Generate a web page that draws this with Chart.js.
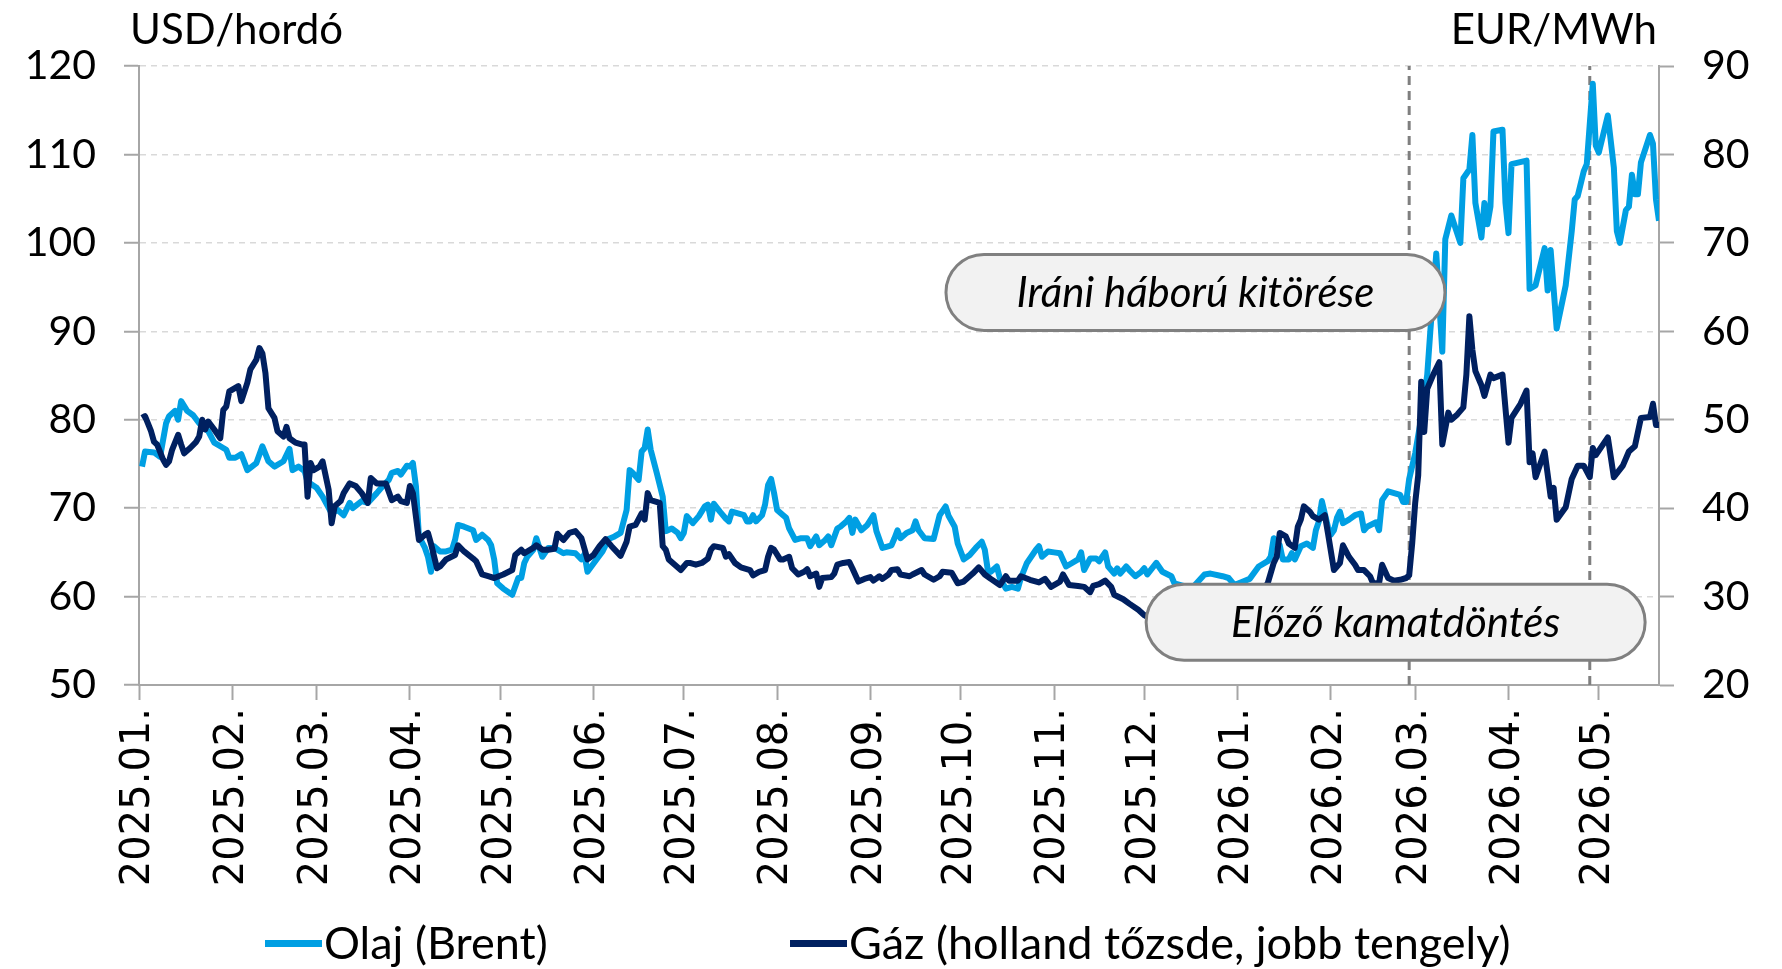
<!DOCTYPE html>
<html>
<head>
<meta charset="utf-8">
<title>Olaj és gáz árak</title>
<script src="https://cdn.jsdelivr.net/npm/chart.js@4.4.1/dist/chart.umd.min.js"></script>
<style>
  html, body { margin: 0; padding: 0; background: #fff; }
  #wrap { width: 1782px; height: 969px; }
</style>
</head>
<body>
<div id="wrap"><canvas id="chPrices" width="1782" height="969"></canvas></div>
<script>
// x values are days counted from 2025-01-01 (day 0)
const monthLabels = ['2025.01.', '2025.02.', '2025.03.', '2025.04.', '2025.05.', '2025.06.',
  '2025.07.', '2025.08.', '2025.09.', '2025.10.', '2025.11.', '2025.12.',
  '2026.01.', '2026.02.', '2026.03.', '2026.04.', '2026.05.'];
const lastDay = 505; // 2026-05-21

// Olaj (Brent), USD/hordó
const oilDays = [
  1,2,5,7,9,10,12,13,14,16,18,20,23,25,28,29,30,32,34,36,39,41,43,45,48,50,51,53,55,56,59,61,64,66,68,70,71,74,76,79,81,83,
  84,86,87,89,90,91,92,93,95,96,97,98,100,102,104,105,106,108,111,112,114,116,117,118,119,121,124,126,127,128,129,131,132,134,136,138,141,142,145,147,148,149,152,154,156,158,160,162,163,164,166,167,168,169,
  170,172,174,175,177,179,180,181,182,184,186,188,189,190,191,193,195,196,197,199,201,202,203,204,205,207,208,209,210,211,212,214,215,216,218,220,222,223,225,226,228,229,230,232,233,235,236,237,238,240,242,244,245,247,
  248,250,251,252,253,255,257,258,259,261,264,266,268,269,271,272,274,276,278,280,281,282,283,285,286,288,290,292,293,295,298,299,300,302,304,306,308,310,312,313,314,316,318,319,321,322,324,325,326,328,329,331,333,
  334,335,338,340,343,344,347,350,354,356,360,362,364,366,369,372,375,376,377,379,380,382,383,384,386,388,390,391,392,393,395,396,397,398,399,400,402,404,406,407,408,411,412,413,415,417,
  419,420,421,422,424,426,428,429,431,433,434,436,439,440,442,443,444,446,447,448,449,450,453,454,455,456,461,462,464,467,468,469,471,474,476,477,478,480,481,483,484,485,488,490,491,492,494,495,496,497,498,499,502,503,504,505
];
const oilValues = [
  74.7,76.4,76.3,75.8,79.6,80.4,81,80,82.1,81,80.5,79.6,78.7,77.4,76.8,76.6,75.7,75.7,76.1,74.3,75.1,77,75.3,74.7,75.3,76.7,74.3,74.7,74.2,73,72.3,71.3,69.4,69.8,69.2,70.6,70,70.8,70.6,71.7,72.5,73.2,
  74,74.2,73.8,74.8,74.7,75.1,72.5,66.8,65.5,64.5,62.8,65.7,65.1,65.1,65.3,66.4,68.1,67.9,67.5,66.4,67,66.4,65.8,64.2,61.5,60.9,60.2,62.1,62.1,63.8,64.5,65.3,66.6,64.5,65.5,65.5,64.9,65,64.9,64.2,64.8,62.8,64.2,65.1,66.5,66.8,67.2,69.8,74.3,74,73.2,76.4,76.8,78.9,
  76.6,74,71.3,67.4,67.7,67.2,66.6,67.2,69.1,68.3,69.1,70.2,70.4,68.7,70.5,69.6,68.8,68.5,69.6,69.4,69.2,68.5,68.5,69.2,68.5,69.2,70.4,72.6,73.3,71.7,69.8,69.2,68.9,67.7,66.4,66.6,66.6,65.7,66.8,65.8,66.4,66.8,65.8,67.7,67.9,68.5,68.9,67.2,68.7,67.5,68.1,69.2,67.4,65.5,
  65.6,65.8,66.6,67.5,66.6,67.2,67.5,68.5,67.5,66.6,66.5,69.2,70.2,69.1,67.9,66,64.2,64.7,65.5,66.2,65.3,63,62.8,63.4,62.1,60.9,61.1,60.9,62.1,63.8,65.3,65.7,64.5,65.1,65,64.9,63.4,63.8,64.2,65,63,64.3,64.3,64,65,63.4,62.6,63.2,62.6,63.4,63,62.3,62.8,
  63.2,62.5,63.8,62.8,62.3,61.5,61.2,61,62.5,62.6,62.3,62.1,61.3,61.6,62,63.4,64,64.5,66.6,65.8,64.2,64.2,64.9,64.2,65.7,66,65.5,67.5,68.5,70.8,67.9,67,67.5,68.9,69.6,68.3,68.7,69.2,69.4,67.5,67.9,68.4,67.5,70.9,71.9,71.7,
  71.5,70.7,70.7,73.3,76.2,80.2,85.1,89.9,98.8,87.7,100.4,103.1,100,107.3,108.3,112.2,104.5,100.6,104.5,102.1,104.1,112.6,112.8,104.5,101.1,108.9,109.3,94.8,95.2,99.4,94.6,99.2,90.3,95.2,101.3,104.9,105.3,108.1,108.9,118,111,110.2,114.4,108.5,101.3,100,103.7,104.1,107.7,105.5,105.5,109.1,112.2,111.2,104.9,102.5
];

// Gáz (holland tőzsde), EUR/MWh, jobb tengely
const gasDays = [
  1,2,4,5,6,8,9,10,11,13,14,15,17,19,20,21,22,23,25,27,28,29,30,32,33,34,36,37,39,40,41,42,43,45,46,48,49,50,52,54,55,56,57,58,60,61,63,64,65,67,68,70,72,74,76,77,79,82,
  84,86,87,89,90,91,93,95,96,97,99,100,102,105,106,108,111,112,114,116,118,121,124,125,127,128,131,132,134,136,138,139,141,143,145,147,149,151,153,155,157,160,162,163,165,
  167,168,169,170,173,174,175,176,178,180,182,183,185,187,189,190,191,194,195,196,198,200,203,204,206,208,209,210,211,213,214,216,217,219,221,222,223,225,226,227,230,231,232,234,236,237,239,241,243,244,246,247,
  249,250,252,253,256,257,260,261,264,266,267,270,272,274,277,279,281,283,286,288,289,292,293,296,299,301,303,306,307,309,312,314,316,317,319,321,323,324,327,329,332,334,
  335,338,342,346,350,355,360,365,370,373,375,377,378,379,381,382,384,385,386,387,389,390,392,394,395,397,399,400,402,404,405,407,409,410,412,413,415,417,419,421,422,423,424,425,426,427,428,430,432,433,
  435,436,438,440,441,442,443,444,446,447,449,450,453,455,456,459,461,462,463,464,467,469,470,471,474,476,478,480,482,483,484,488,490,493,495,497,499,502,503,504,505
];
const gasValues = [
  50.2,50.4,48.7,47.5,47.2,45.5,44.9,45.3,46.6,48.3,47.2,46.2,46.8,47.5,48.1,50,48.9,49.8,48.9,47.9,51.1,51.5,53.2,53.6,53.8,52.1,54.2,55.7,56.8,58.1,57.5,55.3,51.3,50.2,48.7,48.1,49.2,47.9,47.4,47.2,47.2,41.3,45.1,44.3,44.7,45.3,42.1,38.3,40.2,40.8,41.7,42.8,42.5,41.7,40.6,43.4,42.8,42.8,
  40.9,41.3,40.8,40.6,42.5,41.7,36.4,37,37.2,36,33.2,33.4,34.2,34.7,35.8,35.1,34.3,34,32.5,32.3,32.1,32.5,33,34.7,35.3,34.9,35.5,35.8,35.3,35.3,35.4,37.1,36.4,37.2,37.4,36.6,34.2,34.7,35.7,36.5,35.7,34.6,36.2,37.9,38.1,
  39.4,38.7,41.7,40.9,40.6,35.7,35.3,34.2,33.6,33,33.8,33.8,33.6,33.8,34.3,35.3,35.7,35.5,34.5,34.8,33.8,33.3,33,32.4,32.8,33,34.5,35.5,35.3,34.2,34.2,34.5,33.2,32.5,32.8,33.1,32.3,32.6,31.1,32.1,32.2,32.6,33.6,33.8,33.9,33.2,31.7,32,32.2,31.8,32.3,32,
  32.5,33,33.1,32.5,32.3,32.5,33,32.5,31.9,32.3,32.8,32.7,31.5,31.7,32.6,33.3,32.5,32,31.3,32.3,31.8,31.8,32.3,31.9,31.6,32,31.1,31.7,32.5,31.3,31.2,31.1,30.5,31.2,31.4,31.8,31.1,30.2,29.7,29.2,28.5,27.9,
  27.7,27.5,27.6,27.2,27.4,27.8,28.3,28.6,29.5,30.5,31.5,33.8,34.5,37.2,36.8,36,35.5,37.9,38.7,40.2,39.6,39.1,38.7,39.2,37.2,33,33.8,35.8,34.5,33.6,33,33,32.3,31.5,31.5,33.6,32.1,31.8,31.9,32.1,32.4,36,40.6,43.7,54.3,48.6,53.5,55.1,56.5,47.2,
  50.8,50,50.6,51.4,55.1,61.7,57.9,55.5,53.9,52.7,55.1,54.7,55.1,47.4,50.2,51.8,53.3,45.2,46.2,43.5,46.4,41.3,42.3,38.7,40.1,43.3,44.8,44.8,43.5,46.8,46,48,43.5,44.8,46.4,47,50.2,50.3,51.8,49.4,49.4
];

// events: dashed vertical markers and their callouts
const eventDays = [422, 482];          // 2026-02-27, 2026-04-28
const calloutTexts = ['Iráni háború kitörése', 'Előző kamatdöntés'];
const calloutDays = [351, 417.5];      // callout centre, x
const calloutLevels = [94.4, 57.1];    // callout centre, left axis value

const seriesNames = ['Olaj (Brent)', 'Gáz (holland tőzsde, jobb tengely)'];
const OIL = '#009fe3';
const GAS = '#002060';
const AXIS = '#a6a6a6';

const dayOf = (label) => {
  const [y, m] = label.split('.').map(Number);
  return (Date.UTC(y, m - 1, 1) - Date.UTC(2025, 0, 1)) / 86400000;
};
const monthTicks = monthLabels.map(dayOf);

const toPoints = (xs, ys) => xs.map((d, i) => ({ x: d, y: ys[i] }));

const eventSets = eventDays.map(d => ({
  data: [{ x: d, y: 50 }, { x: d, y: 120 }],
  yAxisID: 'y',
  borderColor: '#7f7f7f',
  borderWidth: 3,
  borderDash: [9, 6],
  pointRadius: 0,
  order: 2
}));

const overlayPlugin = {
  id: 'overlay',
  afterDatasetsDraw(chart) {
    const { ctx, scales } = chart;
    ctx.save();
    calloutTexts.forEach((t, i) => {
      const cx = scales.x.getPixelForValue(calloutDays[i]);
      const cy = scales.y.getPixelForValue(calloutLevels[i]);
      const w = 499, h = 76;
      ctx.beginPath();
      ctx.roundRect(cx - w / 2, cy - h / 2, w, h, h / 2);
      ctx.fillStyle = '#f2f2f2';
      ctx.fill();
      ctx.lineWidth = 3;
      ctx.strokeStyle = '#808080';
      ctx.stroke();
      ctx.fillStyle = '#000';
      ctx.font = 'italic 42px Lato';
      ctx.textAlign = 'center';
      ctx.textBaseline = 'middle';
      ctx.fillText(t, cx, cy + 1);
    });
    ctx.restore();
  },
  afterDraw(chart) {
    const ctx = chart.ctx;
    ctx.save();
    ctx.fillStyle = '#000';
    ctx.font = '42px Lato';
    ctx.textBaseline = 'alphabetic';
    ctx.textAlign = 'left';
    ctx.fillText('USD/hordó', 130, 44);
    ctx.textAlign = 'right';
    ctx.fillText('EUR/MWh', 1657, 44);

    // legend
    const cols = [OIL, GAS];
    const xs = [265, 790];
    ctx.font = '45px Lato';
    ctx.textAlign = 'left';
    ctx.textBaseline = 'middle';
    seriesNames.forEach((n, i) => {
      ctx.fillStyle = cols[i];
      ctx.fillRect(xs[i], 940, 57, 7);
      ctx.fillStyle = '#000';
      ctx.fillText(n, xs[i] + 59, 944);
    });
    ctx.restore();
  }
};

const tickFont = { family: 'Lato', size: 41 };

new Chart(document.getElementById('chPrices'), {
  type: 'line',
  data: {
    datasets: [
      {
        label: seriesNames[1],
        data: toPoints(gasDays, gasValues),
        yAxisID: 'y2',
        borderColor: GAS,
        borderWidth: 6,
        pointRadius: 0,
        tension: 0,
        borderJoinStyle: 'round',
        order: 0
      },
      {
        label: seriesNames[0],
        data: toPoints(oilDays, oilValues),
        yAxisID: 'y',
        borderColor: OIL,
        borderWidth: 6,
        pointRadius: 0,
        tension: 0,
        borderJoinStyle: 'round',
        order: 1
      },
      ...eventSets
    ]
  },
  options: {
    responsive: false,
    devicePixelRatio: 1,
    animation: false,
    layout: { padding: { top: 66, left: 0, right: 0, bottom: 0 } },
    plugins: { legend: { display: false }, tooltip: { enabled: false } },
    scales: {
      x: {
        type: 'linear',
        min: 0,
        max: lastDay,
        afterBuildTicks: (scale) => { scale.ticks = monthTicks.map(v => ({ value: v })); },
        afterFit: (scale) => { scale.height = 284; },
        ticks: {
          autoSkip: false,
          minRotation: 90,
          maxRotation: 90,
          padding: 8,
          color: '#000',
          font: { family: 'DejaVu Sans', size: 40 },
          callback: (v, i) => monthLabels[i]
        },
        grid: { drawOnChartArea: false, tickLength: 15, tickColor: AXIS, tickWidth: 2 },
        border: { color: AXIS, width: 2 }
      },
      y: {
        position: 'left',
        min: 50,
        max: 120,
        afterFit: (scale) => { scale.width = 139; },
        ticks: { stepSize: 10, padding: 28, color: '#000', font: tickFont },
        grid: { color: '#d9d9d9', lineWidth: 1.5, tickLength: 15, tickColor: AXIS, tickWidth: 2, tickBorderDash: [] },
        border: { color: AXIS, width: 2, dash: [6, 5] }
      },
      y2: {
        position: 'right',
        min: 20,
        max: 90,
        afterFit: (scale) => { scale.width = 123; },
        ticks: { stepSize: 10, padding: 28, color: '#000', font: tickFont },
        grid: { drawOnChartArea: false, tickLength: 15, tickColor: AXIS, tickWidth: 2 },
        border: { color: AXIS, width: 2 }
      }
    }
  },
  plugins: [overlayPlugin]
});
</script>
</body>
</html>
